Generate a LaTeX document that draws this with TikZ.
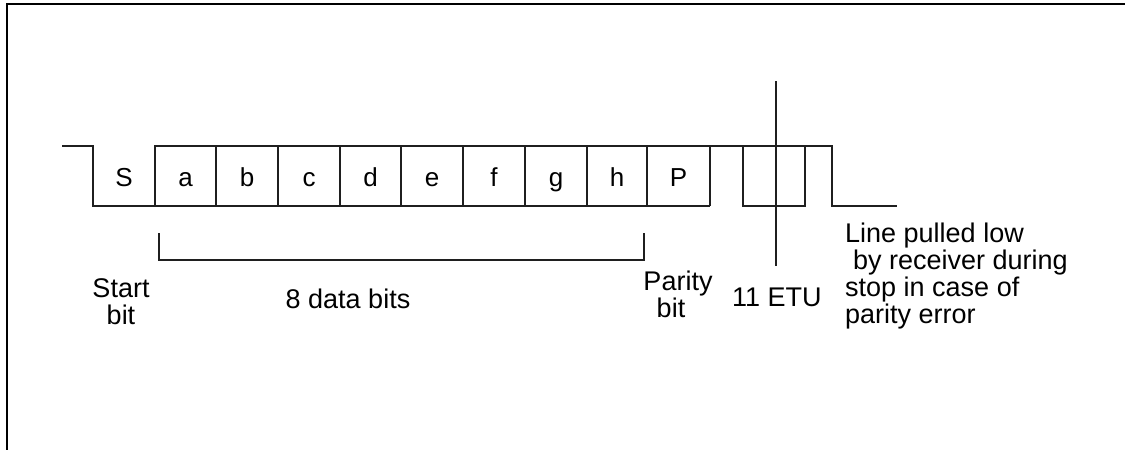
\documentclass[tikz,border=0pt]{standalone}
\usepackage{fontspec}
\setmainfont{Liberation Sans}
\begin{document}
\begin{tikzpicture}[x=1pt,y=-1pt,
  wave/.style={line width=1.6pt, draw=black!88, line join=miter},
  frame/.style={line width=1.5pt, draw=black},
  lbl/.style={inner sep=0pt, font=\fontsize{27}{27}\selectfont},
  bitlbl/.style={inner sep=0pt, anchor=base, font=\fontsize{26}{26}\selectfont}]
\useasboundingbox (0,0) rectangle (1125,450);
% frame
\draw[frame] (7,450) -- (7,4) -- (1125,4);
% waveform
\coordinate (w0) at (62,146);
\draw[wave] (w0) -- (93,146) -- (93,206) -- (710,206);
\draw[wave] (155,206) -- (155,146) -- (832,146) -- (832,206) -- (897,206);
\foreach \x in {216,278,340,401,463,525,587,647,710}
  \draw[wave] (\x,146) -- (\x,206);
\draw[wave] (743,146) -- (743,206) -- (805,206) -- (805,146);
% 11 ETU marker
\coordinate (m1) at (776,81);
\coordinate (m2) at (776,266);
\draw[wave] (m1) -- (m2);
% bit letters
\foreach \l/\x in {S/124,a/185.5,b/247,c/309,d/370.5,e/432,f/494,g/556,h/617,P/678.5}
  \node[bitlbl] (bit\l) at (\x,186) {\l};
% bracket
\coordinate (b1) at (159,233);
\coordinate (b2) at (644,233);
\draw[wave] (b1) -- (159,260) -- (644,260) -- (b2);
% labels
\node[lbl, anchor=north, align=center] (startbit) at (121,278) {Start\\bit};
\node[lbl, anchor=base] (databits) at (348,308) {8 data bits};
\node[lbl, anchor=north, align=center] (paritybit) at (678,271) {Parity\\bit\hspace*{14pt}};
\node[lbl, anchor=base west] (etu) at (732,306) {11 ETU};
\node[lbl, anchor=north west, align=left] (note) at (845,223)
  {Line pulled low\\\hspace*{8pt}by receiver during\\stop in case of\\parity error};
\end{tikzpicture}
\end{document}
